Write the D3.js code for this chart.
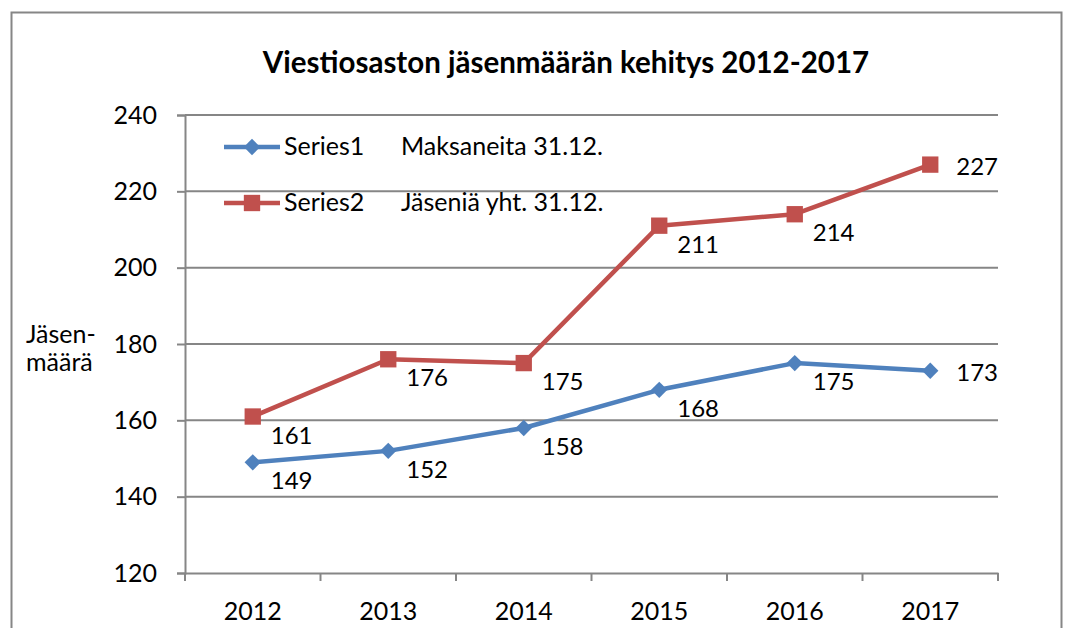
<!DOCTYPE html>
<html>
<head>
<meta charset="utf-8">
<script src="https://cdn.jsdelivr.net/npm/d3@7"></script>
<style>
  body { margin: 0; background: #fff; }
  text { font-family: Lato, 'Open Sans', sans-serif; fill: #000; }
</style>
</head>
<body>
<svg id="chart" width="1067" height="628"></svg>
<script>
const years = ['2012', '2013', '2014', '2015', '2016', '2017']
const series1 = [149, 152, 158, 168, 175, 173]
const series2 = [161, 176, 175, 211, 214, 227]
const yTicks = [120, 140, 160, 180, 200, 220, 240]
const legendNames = ['Series1', 'Series2']
const legendNotes = ['Maksaneita 31.12.', 'Jäseniä yht. 31.12.']
const title = 'Viestiosaston jäsenmäärän kehitys 2012-2017'
const yTitle = ['Jäsen-', 'määrä']

const svg = d3.select('#chart')
const margin = { left: 185, right: 69, top: 115, bottom: 55 }
const width = +svg.attr('width')
const height = +svg.attr('height')
const innerWidth = width - margin.left - margin.right
const innerHeight = height - margin.top - margin.bottom
const gridColor = '#868686'
const fontSize = '25px'

// outer frame
svg.append('path')
  .attr('d', 'M11.5,628 V12.5 H1061.5 V628')
  .attr('fill', 'none')
  .attr('stroke', gridColor)
  .attr('stroke-width', 2)

svg.append('text')
  .attr('x', 566).attr('y', 73)
  .attr('text-anchor', 'middle')
  .style('font-size', '29.5px')
  .style('font-weight', 'bold')
  .text(title)

const g = svg.append('g')
  .attr('transform', 'translate(' + margin.left + ',' + margin.top + ')')

const x = d3.scaleBand().domain(years).range([0, innerWidth])
const y = d3.scaleLinear().domain([120, 240]).range([innerHeight, 0])

// gridlines
g.append('g').selectAll('line')
  .data(yTicks.slice(1))
  .enter().append('line')
  .attr('x1', 0).attr('x2', innerWidth)
  .attr('y1', d => y(d)).attr('y2', d => y(d))
  .attr('stroke', gridColor).attr('stroke-width', 2)

const yAxisG = g.append('g')
  .call(d3.axisLeft(y).tickValues(yTicks).tickSize(8).tickPadding(20))
yAxisG.selectAll('text').style('font-size', fontSize).style('font-family', 'Lato, sans-serif')

const xAxisG = g.append('g')
  .attr('transform', `translate(0, ${innerHeight})`)
  .call(d3.axisBottom(x).tickSize(0).tickPadding(29))
xAxisG.selectAll('text').style('font-size', fontSize).style('font-family', 'Lato, sans-serif')
xAxisG.append('g').selectAll('line')
  .data(years.concat(['end']))
  .enter().append('line')
  .attr('x1', (d, i) => i * x.bandwidth()).attr('x2', (d, i) => i * x.bandwidth())
  .attr('y1', 0).attr('y2', 8)
  .attr('stroke', gridColor).attr('stroke-width', 2)

svg.selectAll('.domain').attr('stroke', gridColor).attr('stroke-width', 2)
yAxisG.selectAll('.tick line').attr('stroke', gridColor).attr('stroke-width', 2)

// y title
svg.append('text')
  .attr('x', 26).attr('y', 343)
  .style('font-size', fontSize)
  .text(yTitle[0])
svg.append('text')
  .attr('x', 26).attr('y', 371)
  .style('font-size', fontSize)
  .text(yTitle[1])

const colors = ['#4f81bd', '#c0504d']
const allSeries = [series1, series2]
const cx = (d, i) => x(years[i]) + x.bandwidth() / 2
const line = d3.line().x(cx).y(d => y(d))

const symbolFor = k => k === 0
  ? d3.symbol().type(d3.symbolDiamond2).size(170)
  : d3.symbol().type(d3.symbolSquare2).size(340)

allSeries.forEach((s, k) => {
  g.append('path')
    .datum(s)
    .attr('d', line)
    .attr('fill', 'none')
    .attr('stroke', colors[k])
    .attr('stroke-width', 4.5)
    .attr('stroke-linejoin', 'round')
  g.selectAll('.m' + k)
    .data(s)
    .enter().append('path')
    .attr('class', 'm' + k)
    .attr('transform', (d, i) => 'translate(' + cx(d, i) + ',' + y(d) + ')')
    .attr('d', symbolFor(k)())
    .attr('fill', colors[k])
  g.selectAll('.l' + k)
    .data(s)
    .enter().append('text')
    .attr('class', 'l' + k)
    .attr('x', (d, i) => cx(d, i) + (i === s.length - 1 ? 26 : 18))
    .attr('y', (d, i) => y(d) + (i === s.length - 1 ? 10 : 27))
    .style('font-size', '24px')
    .text(d => d)
})

// legend
const legend = svg.append('g')
legendNames.forEach((name, k) => {
  const ly = 147 + k * 56
  legend.append('line')
    .attr('x1', 224).attr('x2', 280)
    .attr('y1', ly).attr('y2', ly)
    .attr('stroke', colors[k]).attr('stroke-width', 4.5)
  legend.append('path')
    .attr('transform', 'translate(252,' + ly + ')')
    .attr('d', symbolFor(k)())
    .attr('fill', colors[k])
  legend.append('text')
    .attr('x', 284).attr('y', ly + 8)
    .style('font-size', fontSize)
    .text(name)
  legend.append('text')
    .attr('x', 401).attr('y', ly + 8)
    .style('font-size', fontSize)
    .text(legendNotes[k])
})
</script>
</body>
</html>
